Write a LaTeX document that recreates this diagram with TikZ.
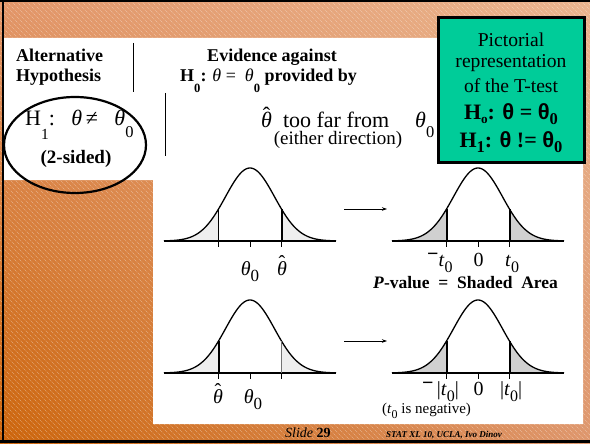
\documentclass[tikz,border=0pt]{standalone}
\usepackage{fontspec}
\usepackage{graphicx}
\setmainfont{Liberation Serif}
\newfontfamily\sansf{Liberation Sans}
\usetikzlibrary{arrows.meta,shadings}
\definecolor{boxgreen}{RGB}{0,204,153}
\definecolor{orUL}{RGB}{226,150,105}
\definecolor{orUR}{RGB}{234,180,142}
\definecolor{orLL}{RGB}{204,100,10}
\definecolor{orLR}{RGB}{222,150,108}
\definecolor{tailL}{RGB}{238,238,238}
\definecolor{tailR}{RGB}{208,208,208}
\newcommand\lo[3]{\raisebox{#1}{\scalebox{#2}{#3}}}
\newcommand\thhat{\ooalign{\itshape θ\cr\hfil\raisebox{0.26em}{\upshape ˆ}\hfil\cr}}
\newcommand\bellshape[3]{%
  \fill[#3] ({#1-86},#2) -- plot[domain=-86:-31.5,samples=40] ({#1+\x},{#2-73*exp(0-(\x)*(\x)/1200.5)}) -- ({#1-31.5},#2) -- cycle;
  \fill[#3] ({#1+31.5},#2) -- plot[domain=31.5:86,samples=40] ({#1+\x},{#2-73*exp(0-(\x)*(\x)/1200.5)}) -- ({#1+86},#2) -- cycle;
  \draw[line width=1.3] plot[domain=-86:86,samples=120] ({#1+\x},{#2-73*exp(0-(\x)*(\x)/1200.5)});
  \draw[line width=2.6] ({#1-86},#2) -- ({#1+86},#2);
  \foreach \t in {-31.5,0,31.5} \draw[line width=0.9] ({#1+\t},#2) -- ({#1+\t},{#2+6});
}
\tikzset{
  hdr/.style={font=\bfseries\fontsize{18}{20}\selectfont, inner sep=0pt},
  big/.style={font=\fontsize{22}{24}\selectfont, inner sep=0pt},
  mid/.style={font=\fontsize{19}{21}\selectfont, inner sep=0pt},
  lab/.style={font=\fontsize{20}{22}\selectfont, inner sep=0pt},
  boxtxt/.style={font=\fontsize{19.6}{22}\selectfont, inner sep=0pt, anchor=base},
  boxbold/.style={font=\bfseries\fontsize{22}{24}\selectfont, inner sep=0pt, anchor=base},
  thincut/.style={line width=0.9},
  thickcut/.style={line width=2},
  conn/.style={line width=0.8, -{Stealth[length=5pt,width=3.5pt]}},
  sep/.style={line width=1}
}
\begin{document}
\begin{tikzpicture}[x=1pt,y=-1pt]
\useasboundingbox (0,0) rectangle (590,444);
% background
\shade[upper left=orUL, upper right=orUR, lower left=orLL, lower right=orLR] (0,0) rectangle (590,444);
\begin{scope}
\clip (0,0) rectangle (590,444);
\foreach \c in {-450,-445,...,590}
  \draw[white, opacity=0.4, line width=0.7, dash pattern=on 1pt off 1pt] (\c,0) -- ({\c+444},444);
\end{scope}
% white panels
\fill[white] (4,38) -- (583,38) -- (583,424) -- (153,424) -- (153,180) -- (4,180) -- cycle;
% frame
\draw[line width=1.6] (0,0.8) -- (590,0.8);
\draw[line width=2.6] (3,0) -- (3,442);
\draw[line width=2.6] (0,441.2) -- (590,441.2);
% separators
\draw[sep] (133,43) -- (133,92);
\draw[sep] (165,93) -- (165,156);
% headers
\node[hdr, anchor=base west] (alt1) at (16,62) {Alternative};
\node[hdr, anchor=base west] (alt2) at (16,82) {Hypothesis};
\node[hdr, anchor=base] (ev1) at (272,62) {Evidence against};
\node[hdr, anchor=base west] (ev2) at (180,82) {H\lo{-0.6em}{0.7}{0}: \mdseries\itshape θ\upshape\ =\ \ \mdseries\itshape θ\upshape\bfseries\lo{-0.6em}{0.7}{0} provided by};
% ellipse
\draw[line width=2.2] (75,145) ellipse [x radius=71, y radius=48];
\node[big, anchor=base west] (h1) at (25,125) {H\lo{-0.68em}{0.7}{1}:\ \ \ \textit{θ}\,≠\ \ \ \textit{θ}\lo{-0.55em}{0.75}{0}};
\node[mid, font=\bfseries\fontsize{19}{21}\selectfont, anchor=base] (sided) at (76,164) {(2-sided)};
% evidence text
\node[big, anchor=base west] (far) at (261,128) {\thhat\ \ too far from};
\node[big, anchor=base west] (far0) at (415,128) {\textit{θ}\lo{-0.45em}{0.75}{0}};
\node[mid, anchor=base] (dir) at (338,145) {(either direction)};
% green box
\draw[line width=3, fill=boxgreen] (438,18) rectangle (584,163);
\node[boxtxt] (b1) at (511,47) {Pictorial};
\node[boxtxt] (b2) at (511,68) {representation};
\node[boxtxt] (b3) at (511,93) {of the T-test};
\node[boxbold] (b4) at (511,120) {H\lo{-0.15em}{0.6}{o}: {\sansf θ} = {\sansf θ}\lo{-0.2em}{0.75}{0}};
\node[boxbold] (b5) at (511,148) {H\lo{-0.2em}{0.75}{1}: {\sansf θ} != {\sansf θ}\lo{-0.2em}{0.75}{0}};
% curves top
\bellshape{250}{241}{tailL}
\draw[thincut] (218.5,241) -- (218.5,209);
\draw[thickcut] (281.5,241) -- (281.5,209);
\bellshape{478}{241}{tailR}
\draw[thickcut] (446.5,241) -- (446.5,209);
\draw[thickcut] (509.5,241) -- (509.5,209);
\coordinate (a1s) at (344,209);
\coordinate (a1e) at (387,209);
\draw[conn] (a1s) -- (a1e);
\node[lab, anchor=base] (ul1) at (250,275) {\textit{θ}\lo{-0.3em}{0.85}{0}};
\node[lab, anchor=base] (ul2) at (282,275) {\thhat};
\node[lab, anchor=base west] (ur1) at (427,266) {\raisebox{0.3em}{\bfseries −}\textit{t}\lo{-0.3em}{0.8}{0}};
\node[lab, anchor=base] (ur2) at (478.5,266) {0};
\node[lab, anchor=base west] (ur3) at (505,266) {\textit{t}\lo{-0.3em}{0.8}{0}};
\node[hdr, font=\bfseries\fontsize{17.5}{20}\selectfont, anchor=base west] (pv) at (373,288) {\textit{P}-value\ \ =\ \ Shaded\ \ Area};
% curves bottom
\bellshape{250}{373}{tailL}
\draw[thickcut] (218.5,373) -- (218.5,341);
\draw[line width=1.2, black!55] (281.5,373) -- (281.5,341);
\bellshape{478}{373}{tailR}
\draw[thickcut] (446.5,373) -- (446.5,341);
\draw[thickcut] (509.5,373) -- (509.5,341);
\coordinate (a2s) at (344,341);
\coordinate (a2e) at (387,341);
\draw[conn] (a2s) -- (a2e);
\node[lab, anchor=base] (ll1) at (218,403) {\thhat};
\node[lab, anchor=base] (ll2) at (253,403) {\textit{θ}\lo{-0.3em}{0.85}{0}};
\node[lab, anchor=base west] (lr1) at (422,395) {\raisebox{0.3em}{\bfseries −}\,|\textit{t}\lo{-0.3em}{0.8}{0}|};
\node[lab, anchor=base] (lr2) at (478.5,395) {0};
\node[lab, anchor=base west] (lr3) at (500,395) {|\textit{t}\lo{-0.3em}{0.8}{0}|};
\node[font=\fontsize{15}{17}\selectfont, inner sep=0pt, anchor=base west] (neg) at (382,413) {(\textit{t}\lo{-0.35em}{0.8}{0} is negative)};
% footer
\node[font=\fontsize{14}{16}\selectfont, inner sep=0pt, anchor=base west] (sl) at (285,437) {\textit{Slide} \textbf{29}};
\node[font=\bfseries\itshape\fontsize{9}{10}\selectfont, inner sep=0pt, anchor=base west] (st) at (386,437) {STAT XL 10, UCLA, Ivo Dinov};
\end{tikzpicture}
\end{document}
